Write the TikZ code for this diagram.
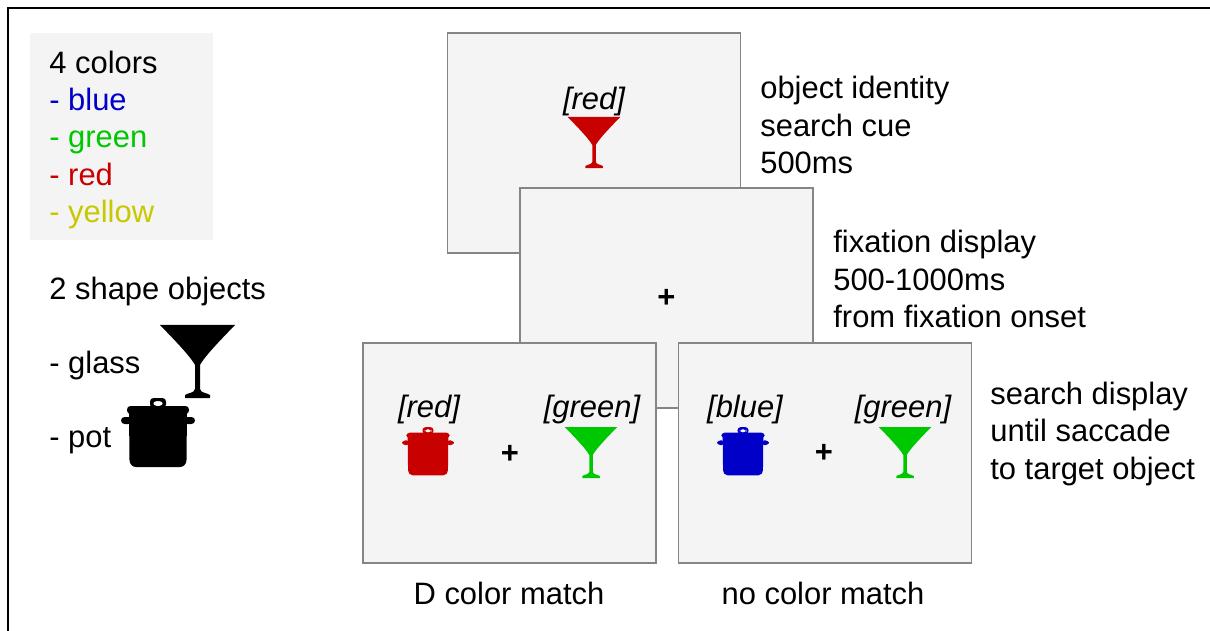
\documentclass[tikz,border=0pt]{standalone}
\usepackage{fontspec}
\setmainfont{Liberation Sans}
\definecolor{boxgray}{HTML}{F4F4F4}
\definecolor{edgegray}{HTML}{858585}
\definecolor{cblue}{RGB}{0,0,200}
\definecolor{cgreen}{RGB}{0,200,0}
\definecolor{cred}{RGB}{200,0,0}
\definecolor{cyellow}{RGB}{200,200,0}

\begin{document}
\begin{tikzpicture}[x=0.02cm, y=-0.02cm]
    \tikzstyle{every node}=[inner sep=0pt, font=\fontsize{17.6}{21.2}\selectfont]
    \tikzstyle{screenbox}=[draw=edgegray, fill=boxgray, line width=0.8pt, minimum width=5.86cm, minimum height=4.4cm]
    \tikzstyle{sidetext}=[anchor=west, align=left]
    \tikzstyle{cuetag}=[font=\fontsize{17.6}{21.2}\selectfont\itshape]
    \tikzstyle{fixmark}=[font=\fontsize{17.6}{21.2}\selectfont\bfseries]
    \tikzset{glass/.pic={\fill[pic actions] (-37.5,0) -- (37.5,0) .. controls (26,12) and (8,30) .. (2.5,40) -- (2.5,64) .. controls (3,68) and (10,68) .. (12.5,70) -- (12.5,73) -- (-12.5,73) -- (-12.5,70) .. controls (-10,68) and (-3,68) .. (-2.5,64) -- (-2.5,40) .. controls (-8,30) and (-26,12) .. cycle;},
        pot/.pic={\fill[pic actions, even odd rule, rounded corners=2] (-8,0) rectangle (8,10) (-5,3) rectangle (5,8);
            \fill[pic actions, rounded corners=2] (-31,8) rectangle (31,16);
            \fill[pic actions, rounded corners=2] (-37,19) rectangle (-26,26) (26,19) rectangle (37,26);
            \fill[pic actions] (-29,14) -- (29,14) -- (28.5,62) to[out=-90,in=0] (22,69) -- (-22,69) to[out=180,in=-90] (-28.5,62) -- cycle;}}
    \useasboundingbox (0,0) rectangle (1210,631);
    \draw[line width=1.1pt] (8,631) -- (8,8) -- (1210,8);
    % legend
    \fill[boxgray] (30,33) rectangle (213,240);
    \node[sidetext] (colors) at (49,140) {4 colors\\\textcolor{cblue}{- blue}\\\textcolor{cgreen}{- green}\\\textcolor{cred}{- red}\\\textcolor{cyellow}{- yellow}};
    \node[sidetext] (shapes) at (49,292) {2 shape objects};
    \node[sidetext] (glasstext) at (49,366) {- glass};
    \node[sidetext] (pottext) at (49,441) {- pot};
    \pic[fill=black] (bigglass) at (197.5,325) {glass};
    \pic[fill=black] (bigpot) at (158,398) {pot};
    % screens
    \node[screenbox] (cue) at (594,143) {};
    \node[cuetag] (cuecolor) at (594,102) {[red]};
    \pic[fill=cred, scale=0.7] (cueglass) at (594,117) {glass};
    \node[screenbox] (fixation) at (666.5,298) {};
    \node[fixmark] (fixcross) at (fixation) {+};
    \node[screenbox] (match) at (509.5,453) {};
    \node[cuetag] (matchred) at (429,410) {[red]};
    \pic[fill=cred, scale=0.7] (matchpot) at (428,427) {pot};
    \node[fixmark] (matchcross) at (510,454) {+};
    \node[cuetag] (matchgreen) at (592,410) {[green]};
    \pic[fill=cgreen, scale=0.7] (matchglass) at (591,427) {glass};
    \node[screenbox] (nomatch) at (825,453) {};
    \node[cuetag] (nomatchblue) at (745,410) {[blue]};
    \pic[fill=cblue, scale=0.7] (nomatchpot) at (743,427) {pot};
    \node[fixmark] (nomatchcross) at (824,453) {+};
    \node[cuetag] (nomatchgreen) at (903,410) {[green]};
    \pic[fill=cgreen, scale=0.7] (nomatchglass) at (905,427) {glass};
    % texts
    \node[sidetext] (cuetext) at (760,125) {object identity\\search cue\\500ms};
    \node[sidetext] (fixtext) at (833,279) {fixation display\\500-1000ms\\from fixation onset};
    \node[sidetext] (searchtext) at (990,434) {search display\\until saccade\\to target object};
    \node (matchcap) at (509,593) {D color match};
    \node (nomatchcap) at (823,593) {no color match};
\end{tikzpicture}
\end{document}
